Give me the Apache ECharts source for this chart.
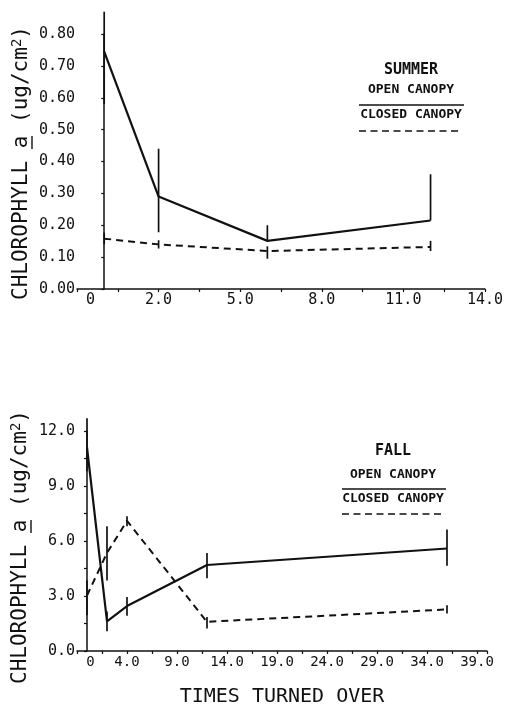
<!DOCTYPE html>
<html>
<head>
<meta charset="utf-8">
<script src="https://cdn.jsdelivr.net/npm/echarts@6/dist/echarts.min.js"></script>
<style>
  html, body { margin: 0; padding: 0; background: #fff; }
  #chart { width: 506px; height: 708px; }
</style>
</head>
<body>
<div id="chart"></div>
<script>
// summer panel
const summerX = [0, 2, 6, 12]
const summerOpen = [0.745, 0.29, 0.151, 0.215]
const summerOpenLow = [0.58, 0.178, 0.151, 0.215]
const summerOpenHigh = [0.87, 0.44, 0.2, 0.36]
const summerClosed = [0.158, 0.14, 0.119, 0.132]
const summerClosedLow = [0.14, 0.127, 0.095, 0.119]
const summerClosedHigh = [0.177, 0.153, 0.134, 0.151]
const summerXLabels = ['0', '2.0', '5.0', '8.0', '11.0', '14.0']
const summerYLabels = ['0.00', '0.10', '0.20', '0.30', '0.40', '0.50', '0.60', '0.70', '0.80']

// fall panel
const fallX = [0, 2, 4, 12, 36]
const fallOpen = [11.1, 1.62, 2.45, 4.69, 5.59]
const fallOpenLow = [9.8, 1.08, 1.92, 3.97, 4.65]
const fallOpenHigh = [12.7, 2.16, 2.95, 5.35, 6.63]
const fallClosed = [3.03, 5.35, 7.1, 1.59, 2.27]
const fallClosedLow = [1.95, 3.84, 6.8, 1.23, 2.04]
const fallClosedHigh = [3.84, 6.81, 7.35, 1.86, 2.49]
const fallXLabels = ['0', '4.0', '9.0', '14.0', '19.0', '24.0', '29.0', '34.0', '39.0']
const fallYLabels = ['0.0', '3.0', '6.0', '9.0', '12.0']

const mono = 'DejaVu Sans Mono'
const ink = '#111'

const chart = echarts.init(document.getElementById('chart'))

const pairs = (xs, ys) => xs.map((x, i) => [x, ys[i]])
const bars = (xs, lo, hi) => xs.map((x, i) => [x, lo[i], hi[i]])

const errorSeries = (idx, data) => ({
  type: 'custom',
  xAxisIndex: idx,
  yAxisIndex: idx,
  clip: false,
  data: data,
  renderItem: (params, api) => {
    const a = api.coord([api.value(0), api.value(1)])
    const b = api.coord([api.value(0), api.value(2)])
    return {
      type: 'line',
      shape: { x1: a[0], y1: a[1], x2: b[0], y2: b[1] },
      style: { stroke: ink, lineWidth: 1.7 }
    }
  }
})

const lineSeries = (idx, data, dashed) => ({
  type: 'line',
  xAxisIndex: idx,
  yAxisIndex: idx,
  data: data,
  symbol: 'none',
  lineStyle: { color: ink, width: dashed ? 2 : 2.2, type: dashed ? [7, 5] : 'solid' }
})

const xLabelFmt = labels => (v, i) => {
  const t = labels[i]
  if (t === undefined) return ''
  return i === 0 ? '{first|' + t + '}' : t
}

const baseAxis = {
  axisLine: { lineStyle: { color: ink, width: 1.5 } },
  axisTick: { length: 3, lineStyle: { color: ink, width: 1.2 } },
  splitLine: { show: false }
}

// rotated y title with underlined "a"
const yTitle = (cx, cy) => ({
  type: 'group',
  x: cx,
  y: cy,
  rotation: Math.PI / 2,
  children: [
    {
      type: 'text',
      style: {
        text: 'CHLOROPHYLL a (ug/cm{sup|2})',
        fontFamily: mono, fontSize: 21, fill: ink,
        align: 'center', verticalAlign: 'middle',
        rich: { sup: { fontFamily: mono, fontSize: 14, fill: ink, verticalAlign: 'top', padding: [0, 0, 9, 0] } }
      }
    },
    { type: 'line', shape: { x1: 14, y1: 10, x2: 27, y2: 10 }, style: { stroke: ink, lineWidth: 1.4 } }
  ]
})

const legendBlock = (cx, title, titleY, openY, lineY1, closedY, lineY2, x1, x2) => [
  { type: 'text', x: cx, y: titleY,
    style: { text: title, fontFamily: mono, fontSize: 15, fontWeight: 'bold', fill: ink, align: 'center', verticalAlign: 'middle' } },
  { type: 'text', x: cx, y: openY,
    style: { text: 'OPEN CANOPY', fontFamily: mono, fontSize: 13, fontWeight: 'bold', fill: ink, align: 'center', verticalAlign: 'middle' } },
  { type: 'line', shape: { x1: x1, y1: lineY1, x2: x2, y2: lineY1 }, style: { stroke: ink, lineWidth: 1.6 } },
  { type: 'text', x: cx, y: closedY,
    style: { text: 'CLOSED CANOPY', fontFamily: mono, fontSize: 13, fontWeight: 'bold', fill: ink, align: 'center', verticalAlign: 'middle' } },
  { type: 'line', shape: { x1: x1, y1: lineY2, x2: x2 - 3, y2: lineY2 }, style: { stroke: ink, lineWidth: 1.6, lineDash: [7, 4.5] } }
]

const option = {
  backgroundColor: '#fff',
  animation: false,
  grid: [
    { left: 77, right: 18, top: 34, height: 255 },
    { left: 77, right: 19, top: 431, height: 222 }
  ],
  xAxis: [
    Object.assign({}, baseAxis, {
      gridIndex: 0, type: 'value', min: -1, max: 14, interval: 3,
      minorTick: { show: true, splitNumber: 2, length: 3, lineStyle: { color: ink, width: 1.2 } },
      axisLabel: {
        formatter: xLabelFmt(summerXLabels), margin: 4,
        fontFamily: mono, fontSize: 15, color: ink, showMaxLabel: true,
        rich: { first: { fontFamily: mono, fontSize: 15, color: ink, padding: [0, 0, 0, 27] } }
      }
    }),
    Object.assign({}, baseAxis, {
      gridIndex: 1, type: 'value', min: -1, max: 40, interval: 5,
      minorTick: { show: true, splitNumber: 2, length: 3, lineStyle: { color: ink, width: 1.2 } },
      name: 'TIMES TURNED OVER', nameLocation: 'middle', nameGap: 36,
      nameTextStyle: { fontFamily: mono, fontSize: 20, color: ink },
      axisLabel: {
        formatter: xLabelFmt(fallXLabels), margin: 4,
        fontFamily: mono, fontSize: 14, color: ink,
        rich: { first: { fontFamily: mono, fontSize: 14, color: ink, padding: [0, 0, 0, 27] } }
      }
    })
  ],
  yAxis: [
    Object.assign({}, baseAxis, {
      gridIndex: 0, type: 'value', min: 0, max: 0.8, interval: 0.1,
      axisLabel: {
        formatter: (v, i) => summerYLabels[i] || '', margin: 2,
        fontFamily: mono, fontSize: 15, color: ink
      }
    }),
    Object.assign({}, baseAxis, {
      gridIndex: 1, type: 'value', min: 0, max: 12, interval: 3,
      minorTick: { show: true, splitNumber: 2, length: 3, lineStyle: { color: ink, width: 1.2 } },
      axisLabel: {
        formatter: (v, i) => fallYLabels[i] || '', margin: 2,
        fontFamily: mono, fontSize: 15, color: ink
      }
    })
  ],
  series: [
    lineSeries(0, pairs(summerX, summerOpen), false),
    lineSeries(0, pairs(summerX, summerClosed), true),
    errorSeries(0, bars(summerX, summerOpenLow, summerOpenHigh)),
    errorSeries(0, bars(summerX, summerClosedLow, summerClosedHigh)),
    lineSeries(1, pairs(fallX, fallOpen), false),
    lineSeries(1, pairs(fallX, fallClosed), true),
    errorSeries(1, bars(fallX, fallOpenLow, fallOpenHigh)),
    errorSeries(1, bars(fallX, fallClosedLow, fallClosedHigh))
  ],
  graphic: [].concat(
    [yTitle(22, 163), yTitle(21, 547)],
    legendBlock(411, 'SUMMER', 70, 90, 105, 115, 131, 359, 464),
    legendBlock(393, 'FALL', 451, 475, 489, 499, 514, 342, 446)
  )
}

chart.setOption(option)
</script>
</body>
</html>
